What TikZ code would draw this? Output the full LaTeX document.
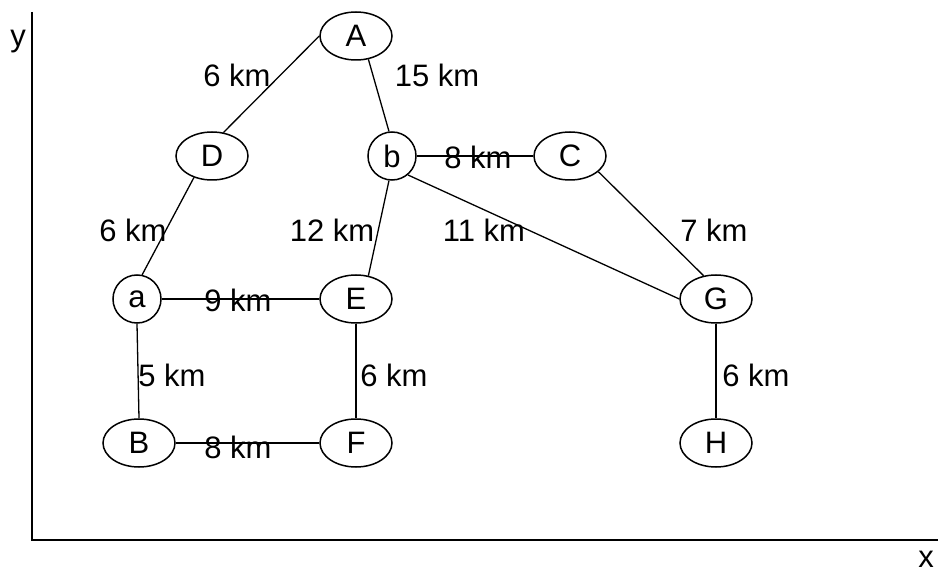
\documentclass[tikz,border=0pt]{standalone}
\usepackage{fontspec}
\setmainfont{Liberation Sans}
\usetikzlibrary{shapes.geometric}
\begin{document}
\begin{tikzpicture}[x=1pt,y=-1pt,
  every node/.style={font=\fontsize{31}{36}\selectfont},
  vert/.style={draw,ellipse,line width=1.5pt,minimum width=72pt,minimum height=48pt,inner sep=0pt},
  rnd/.style={vert,minimum width=48pt},
  edge/.style={line width=1.3pt},
  axis/.style={line width=1.8pt},
  lbl/.style={inner sep=0pt}]
\useasboundingbox (0,0) rectangle (938,572);
% axes
\coordinate (ytop) at (32,12);
\coordinate (origin) at (32,540);
\coordinate (xend) at (938,540);
\draw[axis] (ytop) -- (origin) -- (xend);
\node[lbl,anchor=base] (ylab) at (18,47) {y};
\node[lbl,anchor=base] (xlab) at (926,567) {x};
% vertices
\node[vert] (A) at (356,36) {A};
\node[vert] (D) at (212,156) {D};
\node[rnd]  (b) at (392,156) {b};
\node[vert] (C) at (570,156) {C};
\node[rnd]  (a) at (137,299) {a};
\node[vert] (E) at (356,299) {E};
\node[vert] (G) at (716,299) {G};
\node[vert] (B) at (139,443) {B};
\node[vert] (F) at (356,443) {F};
\node[vert] (H) at (716,443) {H};
% edges
\draw[edge] (A.west) -- (D.64);
\draw[edge] (A.-62) -- (b.97);
\draw[edge] (D.230) -- (a.78);
\draw[edge] (b.263) -- (E.62);
\draw[edge] (b.east) -- (C.west);
\draw[edge] (b.-50) -- (G.west);
\draw[edge] (C.-29) -- (G.118);
\draw[edge] (a.east) -- (E.west);
\draw[edge] (a.south) -- (B.north);
\draw[edge] (E.south) -- (F.north);
\draw[edge] (G.south) -- (H.north);
\draw[edge] (B.east) -- (F.west);
% labels
\node[lbl] (l1) at (237,75) {6 km};
\node[lbl] (l2) at (437,75) {15 km};
\node[lbl] (l3) at (133,230) {6 km};
\node[lbl] (l4) at (332,230) {12 km};
\node[lbl] (l5) at (484,230) {11 km};
\node[lbl] (l6) at (714,230) {7 km};
\node[lbl] (l7) at (478,157) {8 km};
\node[lbl] (l8) at (238,300) {9 km};
\node[lbl] (l9) at (238,447) {8 km};
\node[lbl] (l10) at (172,375) {5 km};
\node[lbl] (l11) at (394,375) {6 km};
\node[lbl] (l12) at (756,375) {6 km};
\end{tikzpicture}
\end{document}
